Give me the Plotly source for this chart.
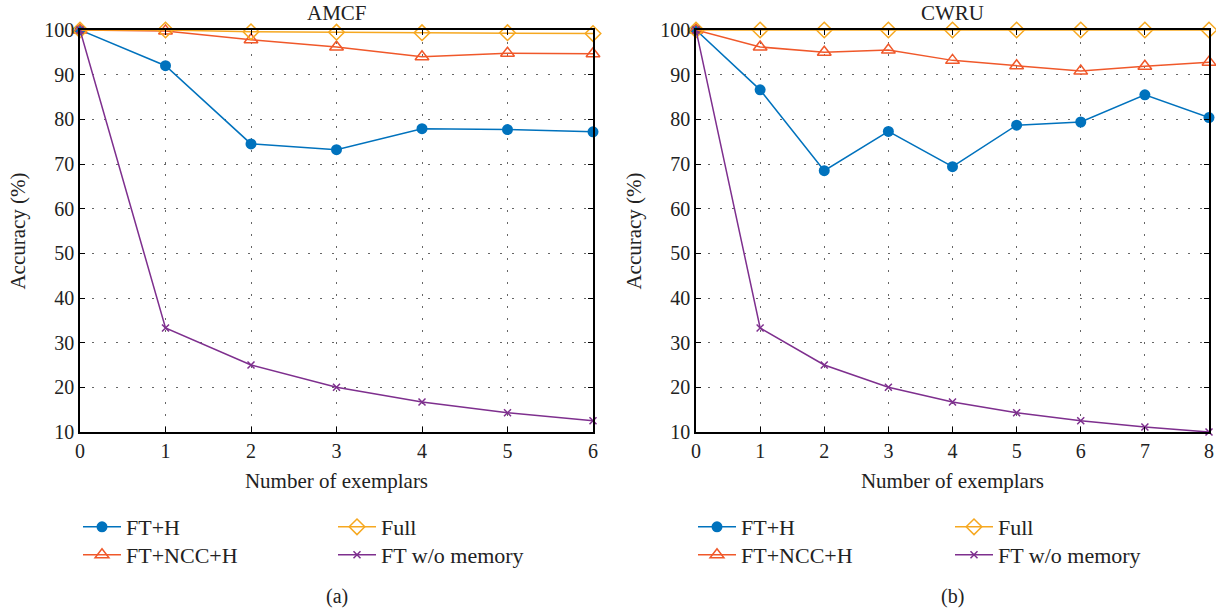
import plotly.graph_objects as go

# ---- data ----
x_amcf = [0, 1, 2, 3, 4, 5, 6]
amcf_fth = [100, 92.0, 74.5, 73.2, 77.9, 77.7, 77.2]
amcf_ftncch = [100, 99.8, 97.8, 96.2, 94.0, 94.8, 94.7]
amcf_full = [100, 100, 99.6, 99.5, 99.4, 99.4, 99.2]
amcf_ftwo = [100, 33.3, 25.0, 20.0, 16.7, 14.3, 12.5]

x_cwru = [0, 1, 2, 3, 4, 5, 6, 7, 8]
cwru_fth = [100, 86.6, 68.5, 77.3, 69.4, 78.7, 79.4, 85.5, 80.4]
cwru_ftncch = [100, 96.2, 95.0, 95.5, 93.2, 92.0, 90.8, 91.9, 92.8]
cwru_full = [100, 100, 100, 100, 100, 100, 100, 100, 100]
cwru_ftwo = [100, 33.3, 25.0, 20.0, 16.7, 14.3, 12.5, 11.1, 10.0]

y_ticks = [10, 20, 30, 40, 50, 60, 70, 80, 90, 100]
series_names = ["FT+H", "FT+NCC+H", "Full", "FT w/o memory"]
panel_titles = ["AMCF", "CWRU"]
panel_labels = ["(a)", "(b)"]

C_BLUE = "#0072BD"
C_ORANGE = "#F0582A"
C_YELLOW = "#F6A820"
C_PURPLE = "#7E2F8E"
FONT = "Liberation Serif, Times New Roman, serif"

W, H = 1216, 609
fig = go.Figure()

# legend slot positions (left px of column, top px of row) per panel
col_x = [[78, 333], [693, 950]]
row_top = [506, 534]

leg_common = dict(font=dict(family=FONT, size=22, color="#222"), bgcolor="rgba(0,0,0,0)",
                  xanchor="left", yanchor="top", tracegroupgap=0, itemwidth=38, visible=True)
legend_layout = {}
leg_idx = [0]

def add_panel(p, xs, fth, ncc, full, ftwo, xa, ya):
    specs = [
        (fth, C_BLUE, dict(symbol="circle", size=11, color=C_BLUE), 0, 0),
        (ncc, C_ORANGE, dict(symbol="triangle-up-open", size=12, color=C_ORANGE,
                             line=dict(width=1.5, color=C_ORANGE)), 0, 1),
        (full, C_YELLOW, dict(symbol="diamond-open", size=12, color=C_YELLOW,
                              line=dict(width=1.5, color=C_YELLOW)), 1, 0),
        (ftwo, C_PURPLE, dict(symbol="x-thin-open", size=7, color=C_PURPLE,
                              line=dict(width=1.5, color=C_PURPLE)), 1, 1),
    ]
    for name, (ys, col, mk, c, r) in zip(series_names, specs):
        leg_idx[0] += 1
        key = "legend" if leg_idx[0] == 1 else f"legend{leg_idx[0]}"
        legend_layout[key] = dict(x=col_x[p][c] / W, y=1 - row_top[r] / H, **leg_common)
        fig.add_trace(go.Scatter(
            x=xs, y=ys, mode="lines+markers", name=name,
            line=dict(color=col, width=1.5), marker=mk,
            xaxis=xa, yaxis=ya, legend=key, cliponaxis=False, showlegend=True,
        ))

add_panel(0, x_amcf, amcf_fth, amcf_ftncch, amcf_full, amcf_ftwo, "x", "y")
add_panel(1, x_cwru, cwru_fth, cwru_ftncch, cwru_full, cwru_ftwo, "x2", "y2")

ydom = [(609 - 432) / H, (609 - 30) / H]
xdom1 = [80 / W, 593 / W]
xdom2 = [696 / W, 1209 / W]

axis_common = dict(
    showline=True, linecolor="black", linewidth=1.5, mirror="ticks",
    ticks="inside", ticklen=5, tickcolor="black", automargin=False,
    showgrid=True, gridcolor="#666666", gridwidth=1, griddash="2px,10px",
    zeroline=False, tickfont=dict(family=FONT, size=20, color="#222"),
)
title_font = dict(family=FONT, size=21, color="#222")

fig.update_layout(
    width=W, height=H, margin=dict(l=0, r=0, t=0, b=0),
    plot_bgcolor="white", paper_bgcolor="white", showlegend=True,
    font=dict(family=FONT, size=20, color="#222"),
    xaxis=dict(domain=xdom1, range=[0, 6], dtick=1, anchor="y",
               title=dict(text="Number of exemplars", standoff=13, font=title_font), **axis_common),
    yaxis=dict(domain=ydom, range=[10, 100], tickvals=y_ticks, anchor="x",
               title=dict(text="Accuracy (%)", standoff=13, font=title_font), **axis_common),
    xaxis2=dict(domain=xdom2, range=[0, 8], dtick=1, anchor="y2",
                title=dict(text="Number of exemplars", standoff=13, font=title_font), **axis_common),
    yaxis2=dict(domain=ydom, range=[10, 100], tickvals=y_ticks, anchor="x2",
                title=dict(text="Accuracy (%)", standoff=13, font=title_font), **axis_common),
    **legend_layout,
)

ann = []
for t, xd in zip(panel_titles, [xdom1, xdom2]):
    ann.append(dict(text=t, x=(xd[0] + xd[1]) / 2, y=1 - 13 / H, xref="paper", yref="paper",
                    showarrow=False, font=dict(family=FONT, size=21, color="#222"),
                    xanchor="center", yanchor="middle"))
for t, xd in zip(panel_labels, [xdom1, xdom2]):
    ann.append(dict(text=t, x=(xd[0] + xd[1]) / 2, y=1 - 596 / H, xref="paper", yref="paper",
                    showarrow=False, font=dict(family=FONT, size=20, color="#222"),
                    xanchor="center", yanchor="middle"))
fig.update_layout(annotations=ann)

fig.write_html("out.html")
